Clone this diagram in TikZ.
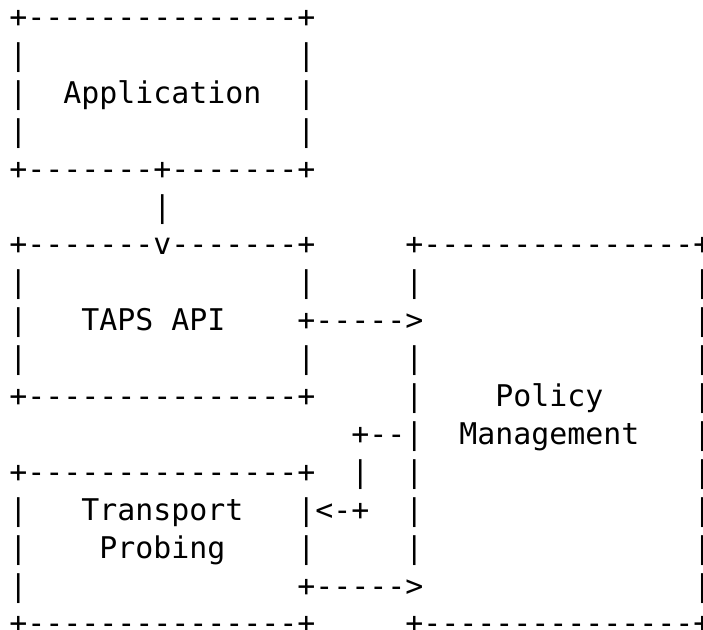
\documentclass[tikz,border=0pt]{standalone}
\usepackage{fontspec}
\setmonofont{DejaVu Sans Mono}
\begin{document}
\begin{tikzpicture}[x=1pt,y=1pt,
  asc/.style={anchor=base west, inner sep=0pt, outer sep=0pt,
    font=\ttfamily\fontsize{14.95pt}{18pt}\selectfont}]
\useasboundingbox[fill=white] (0,0) rectangle (351.5,-314.5);
\node[asc] (l0)  at (4.65,-13.75)  {+---------------+};
\node[asc] (l1)  at (4.65,-32.70)  {|~~~~~~~~~~~~~~~|};
\node[asc] (l2)  at (4.65,-51.65)  {|~~Application~~|};
\node[asc] (l3)  at (4.65,-70.60)  {|~~~~~~~~~~~~~~~|};
\node[asc] (l4)  at (4.65,-89.55)  {+-------+-------+};
\node[asc] (l5)  at (4.65,-108.50) {~~~~~~~~|};
\node[asc] (l6)  at (4.65,-127.45) {+-------v-------+~~~~~+---------------+};
\node[asc] (l7)  at (4.65,-146.40) {|~~~~~~~~~~~~~~~|~~~~~|~~~~~~~~~~~~~~~|};
\node[asc] (l8)  at (4.65,-165.35) {|~~~TAPS~API~~~~+----->~~~~~~~~~~~~~~~|};
\node[asc] (l9)  at (4.65,-184.30) {|~~~~~~~~~~~~~~~|~~~~~|~~~~~~~~~~~~~~~|};
\node[asc] (l10) at (4.65,-203.25) {+---------------+~~~~~|~~~~Policy~~~~~|};
\node[asc] (l11) at (4.65,-222.20) {~~~~~~~~~~~~~~~~~~~+--|~~Management~~~|};
\node[asc] (l12) at (4.65,-241.15) {+---------------+~~|~~|~~~~~~~~~~~~~~~|};
\node[asc] (l13) at (4.65,-260.10) {|~~~Transport~~~|<-+~~|~~~~~~~~~~~~~~~|};
\node[asc] (l14) at (4.65,-279.05) {|~~~~Probing~~~~|~~~~~|~~~~~~~~~~~~~~~|};
\node[asc] (l15) at (4.65,-298.00) {|~~~~~~~~~~~~~~~+----->~~~~~~~~~~~~~~~|};
\node[asc] (l16) at (4.65,-316.95) {+---------------+~~~~~+---------------+};
\end{tikzpicture}
\end{document}
